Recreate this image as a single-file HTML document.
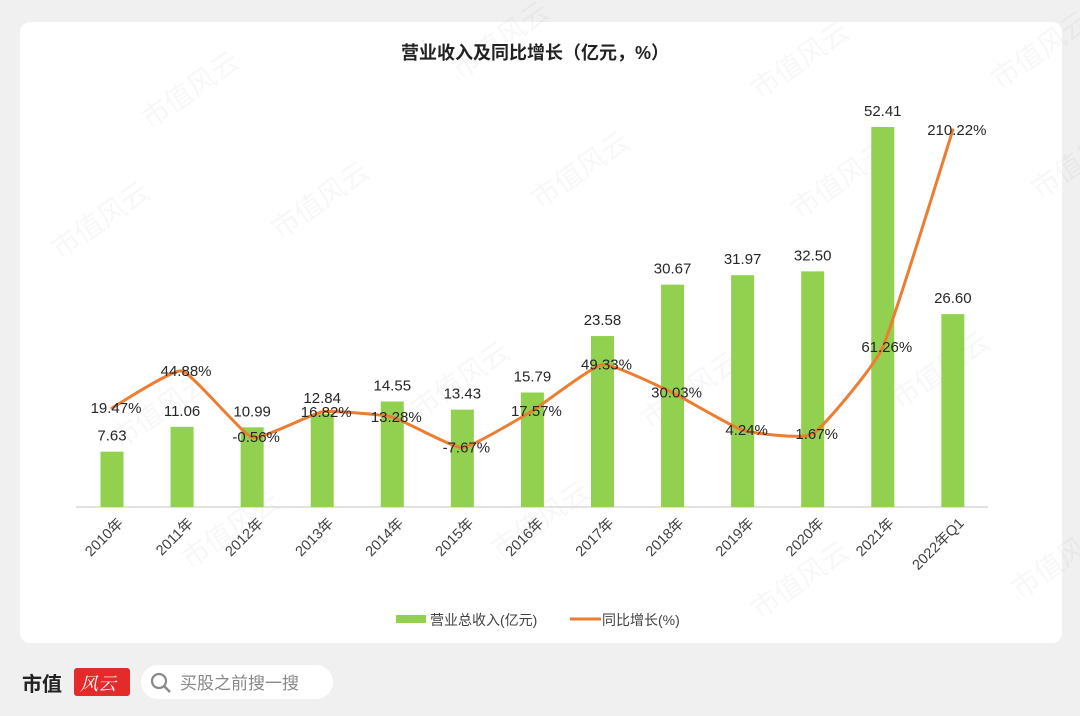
<!DOCTYPE html>
<html><head><meta charset="utf-8"><style>
body{margin:0;width:1080px;height:716px;background:#f0f0f0;overflow:hidden;font-family:"Liberation Sans","Noto Sans CJK SC",sans-serif;}
#card{position:absolute;left:20px;top:22px;width:1042px;height:621px;background:#fff;border-radius:10px;}
svg{position:absolute;left:0;top:0}
</style></head><body>
<div id="card"></div>
<svg id="chart" width="1080" height="716">
<text x="535" y="59" text-anchor="middle" font-size="18" font-weight="bold" fill="#222">营业收入及同比增长（亿元，%）</text>
<g id="wm" fill="#000" opacity="0.035" font-size="28"></g>
<line x1="76" y1="507" x2="988" y2="507" stroke="#d9d9d9" stroke-width="1.5"/>
<g id="bars"></g><g id="line"></g><g id="labels"></g><g id="xt"></g>
<g>
<rect x="396" y="615" width="30" height="8" fill="#92d050"/>
<text x="430" y="625" font-size="14" fill="#404040">营业总收入(亿元)</text>
<line x1="570" y1="619" x2="601" y2="619" stroke="#ed7d31" stroke-width="3"/>
<text x="602" y="625" font-size="14" fill="#404040">同比增长(%)</text>
</g>
<g>
<text x="22" y="691" font-size="20" font-weight="bold" fill="#222">市值</text>
<rect x="74" y="668" width="56" height="28" rx="3" fill="#e52a2a"/>
<text x="80" y="690" font-size="18" font-style="italic" fill="#fff" font-family="Liberation Serif, Noto Serif CJK SC, serif">风云</text>
</g>
<g>
<rect x="141" y="665" width="192" height="34" rx="17" fill="#fff"/>
<circle cx="159" cy="681" r="7" fill="none" stroke="#888" stroke-width="2.2"/>
<line x1="164" y1="686" x2="170" y2="692" stroke="#888" stroke-width="2.5"/>
<text x="180" y="689" font-size="17" fill="#888">买股之前搜一搜</text>
</g>
</svg>
<script>
const categories=["2010年","2011年","2012年","2013年","2014年","2015年","2016年","2017年","2018年","2019年","2020年","2021年","2022年Q1"];
const revenue=[7.63,11.06,10.99,12.84,14.55,13.43,15.79,23.58,30.67,31.97,32.50,52.41,26.60];
const growth=[19.47,44.88,-0.56,16.82,13.28,-7.67,17.57,49.33,30.03,4.24,1.67,61.26,210.22];
const revLabels=["7.63","11.06","10.99","12.84","14.55","13.43","15.79","23.58","30.67","31.97","32.50","52.41","26.60"];
const growthLabels=["19.47%","44.88%","-0.56%","16.82%","13.28%","-7.67%","17.57%","49.33%","30.03%","4.24%","1.67%","61.26%","210.22%"];
const NS="http://www.w3.org/2000/svg";
function xs(i){return 112+i*70.07;}
function yb(v){return 507-v*7.25;}
function yl(v){return 436.4-v*1.4576;}
function mk(t,a,p){const e=document.createElementNS(NS,t);for(const k in a)e.setAttribute(k,a[k]);p.appendChild(e);return e;}
const bars=document.getElementById('bars'),line=document.getElementById('line'),labels=document.getElementById('labels'),xt=document.getElementById('xt'),wm=document.getElementById('wm');
[[150,130],[460,80],[760,100],[1000,90],[60,260],[280,240],[540,210],[800,220],[1040,200],[120,450],[420,420],[650,430],[900,410],[190,570],[500,560],[760,620],[1020,600]].forEach(p=>{
 const t=mk('text',{x:p[0],y:p[1],transform:`rotate(-35 ${p[0]} ${p[1]})`},wm);t.textContent='市值风云';
});
revenue.forEach((v,i)=>{
 const r=mk('rect',{x:xs(i)-11.5,y:yb(v),width:23,height:507-yb(v),fill:'#92d050'},bars);
 
 
 const t=mk('text',{x:xs(i),y:yb(v)-11,'text-anchor':'middle','font-size':15,fill:'#262626'},labels);
 
 
 t.textContent=revLabels[i];
 const g=mk('text',{x:xs(i)+4,y:yl(growth[i])+5,'text-anchor':'middle','font-size':15,fill:'#262626'},labels);
 
 
 g.textContent=growthLabels[i];
 const cx=xs(i)+12,cy=524;
 const c=mk('text',{x:cx,y:cy,'text-anchor':'end','font-size':14.5,fill:'#404040',transform:`rotate(-45 ${cx} ${cy})`},xt);
 
 
 c.textContent=categories[i];
});
const pts=growth.map((v,i)=>[xs(i),yl(v)]);
let d=`M${pts[0][0]},${pts[0][1]}`;
for(let i=0;i<pts.length-1;i++){
 const p0=pts[Math.max(0,i-1)],p1=pts[i],p2=pts[i+1],p3=pts[Math.min(pts.length-1,i+2)];
 const k=0.07;
 d+=` C${p1[0]+(p2[0]-p0[0])*k},${p1[1]+(p2[1]-p0[1])*k} ${p2[0]-(p3[0]-p1[0])*k},${p2[1]-(p3[1]-p1[1])*k} ${p2[0]},${p2[1]}`;
}
const l=mk('path',{d:d,fill:'none',stroke:'#ed7d31','stroke-width':3,'stroke-linejoin':'round','stroke-linecap':'round'},line);


</script>
</body></html>
